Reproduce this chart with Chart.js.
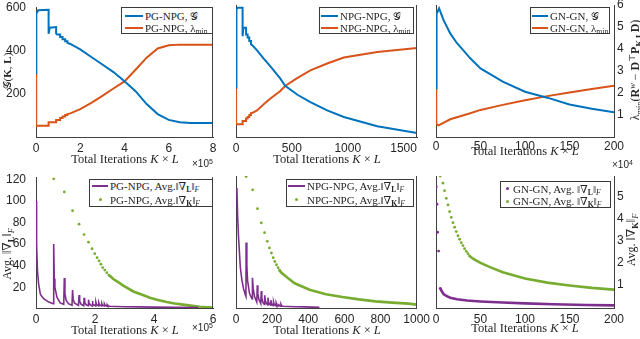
<!DOCTYPE html>
<html>
<head>
<meta charset="utf-8">
<title>PG / NPG / GN convergence</title>
<script src="https://cdn.jsdelivr.net/npm/chart.js@4.4.1/dist/chart.umd.min.js"></script>
<style>
  html, body { margin: 0; padding: 0; }
  body { width: 640px; height: 339px; position: relative; overflow: hidden; background: #fff;
         font-family: "Liberation Serif", "DejaVu Serif", serif; color: #262626; }
  canvas { position: absolute; }
  .lbl { position: absolute; white-space: nowrap; font-size: 12.5px; line-height: 1; transform: translate(-50%, -50%); }
  .lbl.rot { font-size: 12px; transform: translate(-50%, -50%) rotate(-90deg); }
  .exp { position: absolute; font-family: "Liberation Sans", sans-serif; font-size: 10px; line-height: 1; white-space: nowrap; }
  .lg { position: absolute; background: #fff; border: 1px solid #3a3a3a; box-sizing: border-box; font-size: 11px; }
  .lg .t { position: absolute; white-space: nowrap; line-height: 1; transform: translateY(-50%); }
  .lg .ln { position: absolute; height: 2px; margin-top: -1px; }
  .lg .dt { position: absolute; width: 3px; height: 3px; border-radius: 50%; margin: -1.5px 0 0 -1.5px; }
  sub, sup { font-size: 70%; line-height: 0; vertical-align: baseline; position: relative; }
  sub { top: 0.3em; }
  sup { top: -0.45em; }
</style>
</head>
<body>
<canvas id="c1"></canvas>
<canvas id="c2"></canvas>
<canvas id="c3"></canvas>
<canvas id="c4"></canvas>
<canvas id="c5"></canvas>
<canvas id="c6"></canvas>

<!-- axis titles -->
<div class="lbl" style="left:125px;top:159px">Total Iterations <i>K</i> × <i>L</i></div>
<div class="lbl" style="left:327px;top:159px">Total Iterations <i>K</i> × <i>L</i></div>
<div class="lbl" style="left:525px;top:151px">Total Iterations <i>K</i> × <i>L</i></div>
<div class="lbl" style="left:125px;top:330px">Total Iterations <i>K</i> × <i>L</i></div>
<div class="lbl" style="left:327px;top:330px">Total Iterations <i>K</i> × <i>L</i></div>
<div class="lbl" style="left:525px;top:328px">Total Iterations <i>K</i> × <i>L</i></div>

<div class="lbl rot" style="left:7px;top:71px;font-size:11px">𝒢(<b>K</b>, <b>L</b>)</div>
<div class="lbl rot" style="left:7px;top:254px">Avg. ‖∇<sub><b>L</b></sub>‖<sub><i>F</i></sub></div>
<div class="lbl rot" style="left:635px;top:70px">λ<sub>min</sub>(<b>R</b><sup><i>w</i></sup> − <b>D</b><sup>⊤</sup><b>P</b><sub><b>K</b>,<b>L</b></sub><b>D</b>)</div>
<div class="lbl rot" style="left:631px;top:240px">Avg. ‖∇<sub><b>K</b></sub>‖<sub><i>F</i></sub></div>

<div class="exp" style="left:192px;top:159px">×10<sup>5</sup></div>
<div class="exp" style="left:192px;top:323px">×10<sup>5</sup></div>
<div class="exp" style="left:612px;top:160px">×10<sup>4</sup></div>

<script>
// ---- data ----
// top row: cost G(K,L) and lambda_min, PG-NPG (x in 1e5 iterations)
const pgGx  = [0, 0, 0.03, 0.1, 0.57, 0.57, 0.62, 0.91, 0.91, 0.95, 1.09, 1.09, 1.2, 1.2, 1.32, 1.32, 1.42, 1.42, 1.55, 2.0, 2.5, 3.0, 3.5, 4.0, 4.5, 5.0, 5.5, 6.0, 6.5, 7.0, 8.0];
const pgG   = [295, 540, 570, 586, 588, 477, 505, 508, 478, 474, 474, 462, 462, 452, 452, 443, 443, 435, 430, 405, 370, 335, 300, 258, 212, 152, 106, 79, 68, 65, 65];
const pgLx  = [0, 0.01, 0.57, 0.57, 0.91, 0.91, 1.09, 1.09, 1.2, 1.2, 1.32, 1.32, 1.42, 1.42, 1.55, 2.0, 2.5, 3.0, 3.5, 4.0, 4.5, 5.0, 5.5, 6.0, 6.5, 8.0];
const pgLam = [295, 52, 52, 68, 68, 79, 79, 88, 88, 95, 95, 102, 102, 106, 109, 129, 158, 190, 224, 257, 311, 367, 409, 424, 427, 427];

// NPG-NPG
const npgGx  = [0, 0, 8, 14, 59, 59, 66, 90, 90, 104, 104, 119, 119, 134, 134, 149, 188, 248, 308, 397, 440, 550, 666, 816, 965, 1264, 1620];
const npgG   = [224, 560, 580, 588, 588, 458, 497, 497, 466, 466, 452, 452, 436, 436, 421, 416, 394, 356, 321, 265, 233, 192, 159, 121, 91, 49, 18];
const npgLx  = [0, 1, 59, 59, 90, 90, 104, 104, 119, 119, 134, 134, 149, 188, 248, 308, 397, 440, 540, 666, 816, 965, 1264, 1620];
const npgLam = [224, 58, 58, 73, 73, 84, 84, 91, 91, 100, 100, 109, 110, 121, 149, 175, 209, 232, 265, 303, 334, 361, 386, 404];

// GN-GN (read on the right axis)
const gnGx  = [0, 0.3, 1, 3.5, 8.5, 16, 23.6, 31, 38.5, 50, 75, 100, 125, 150, 175, 200];
const gnG   = [2.19, 5.2, 5.6, 5.85, 5.31, 4.7, 4.25, 3.91, 3.56, 3.1, 2.49, 2.03, 1.76, 1.45, 1.25, 1.09];
const gnLx  = [0, 0.3, 2.9, 16, 38.5, 50, 75, 100, 125, 150, 175, 200];
const gnLam = [2.19, 0.56, 0.49, 0.77, 1.05, 1.2, 1.43, 1.64, 1.83, 2.0, 2.16, 2.31];

// bottom row: average gradient norms
const pgDLx = [0, 0.02, 0.05, 0.09, 0.15, 0.26, 0.43, 0.58,
  0.6, 0.62, 0.64, 0.71, 0.82, 0.94,
  0.96, 0.98, 1.02, 1.1, 1.22,
  1.24, 1.26, 1.3, 1.44,
  1.46, 1.48, 1.53, 1.62,
  1.63, 1.65, 1.7, 1.77,
  1.78, 1.8, 1.85, 1.9,
  1.91, 1.93, 2.02,
  2.03, 2.05, 2.12,
  2.13, 2.15, 2.22,
  2.23, 2.25, 2.31,
  2.32, 2.34, 2.4,
  2.41, 2.43, 2.5, 2.7, 3.0, 3.5, 4.0, 4.7, 5.5];
const pgDL = [100, 60, 35, 23, 13.3, 9.4, 6.3, 4.8,
  60, 28, 20, 10.9, 5.5, 4.2,
  28.6, 14, 8, 4.8, 3.3,
  17.4, 9, 5.5, 3.2,
  12.8, 7, 4.2, 3,
  10.3, 6, 3.8, 2.9,
  8.5, 5.2, 3.5, 2.8,
  7.2, 4.6, 2.8,
  6.3, 4.2, 2.8,
  5.5, 3.8, 2.7,
  5, 3.6, 2.6,
  4.5, 3.3, 2.5,
  4, 3, 2.4, 2.2, 2.0, 1.8, 1.6, 1.4, 1.2];
const pgDKx = [0.6, 0.96, 1.24, 1.46, 1.63, 1.78, 1.9, 1.99, 2.07, 2.14, 2.2, 2.26, 2.33, 2.4, 2.47, 2.55, 2.62, 2.8, 2.96, 3.3, 3.6, 3.86, 4.1, 4.43, 4.7, 4.99, 5.3, 5.55, 5.8, 6.0];
const pgDK  = [120.5, 108.4, 91, 78.5, 68.8, 61.8, 55.7, 51.1, 47.4, 44.4, 41.4, 38.3, 35.9, 33.5, 31.3, 29.5, 27.7, 24.5, 21.6, 16.1, 13, 10.3, 8.5, 6.3, 5, 3.9, 2.8, 2.0, 1.5, 1.2];

const npgDLx = [5, 9, 14, 24, 33, 42, 51, 55,
  56, 60, 64, 75, 88, 90,
  91, 95, 103, 115,
  118, 121, 127, 137,
  140, 143, 149, 157,
  159, 162, 168, 175,
  177, 180, 186, 192,
  193, 196, 201, 207,
  208, 211, 221,
  222, 225, 234,
  235, 238, 248,
  249, 252, 260, 290, 330, 380, 420, 462];
const npgDL = [111, 85, 66, 38, 26, 18.5, 13.3, 11.5,
  61, 40, 26, 14, 9.4, 9,
  28.6, 19, 11, 6.3,
  21.6, 14, 8.5, 4.8,
  16.4, 10, 6, 4,
  12.4, 8, 5, 3.6,
  10.3, 6.5, 4.2, 3.3,
  7.9, 5.2, 3.6, 3,
  6.3, 4.3, 2.8,
  5.5, 3.8, 2.6,
  4.8, 3.4, 2.5,
  4.2, 3, 2.4, 2.2, 2.0, 1.8, 1.6, 1.4];
const npgDKx = [56, 92, 119, 140, 158, 173, 185, 196, 206, 215, 224, 233, 241, 250, 285, 325, 407, 498, 589, 680, 772, 864, 955, 1000];
const npgDK  = [121.5, 109.3, 92, 79, 70, 62, 56, 51.3, 47, 43.5, 40.5, 37.8, 35.5, 33.3, 28.5, 23.5, 17.5, 13.5, 10.9, 8.7, 6.9, 5.7, 4.8, 3.9];

// GN-GN, right axis in 1e4
const gnDLx = [0.3, 1.1, 1.8, 2.9, 4.8, 6.7, 8.5, 11.6, 16, 23.6, 34.8, 50, 75, 100, 132, 169, 200];
const gnDL  = [5.46, 4.66, 3.38, 2.52, 0.82, 0.67, 0.56, 0.47, 0.39, 0.32, 0.26, 0.22, 0.17, 0.13, 0.09, 0.06, 0.04];
const gnDKx = [4.8, 7.8, 9.6, 11.6, 13.5, 15.3, 17.2, 19.1, 20.9, 22.8, 24.7, 26.5, 28.4, 30.3, 32.1, 34, 35.9, 37.7, 42, 50, 60, 75, 100, 125, 150, 175, 200];
const gnDK  = [5.95, 5.62, 5.28, 4.93, 4.63, 4.32, 4.06, 3.82, 3.61, 3.41, 3.22, 3.06, 2.9, 2.77, 2.63, 2.51, 2.4, 2.3, 2.16, 1.98, 1.8, 1.55, 1.27, 1.08, 0.95, 0.84, 0.76];

// tick labels
const xtPG  = [0, 2, 4, 6, 8];
const xtNPG = [0, 500, 1000, 1500];
const xtGN  = [0, 50, 100, 150, 200];
const xtPG2 = [0, 2, 4, 6];
const xtNPG2 = [0, 200, 400, 600, 800, 1000];
const ytG   = [200, 400, 600];
const ytLam = [1, 2, 3, 4, 5, 6];
const ytDL  = [20, 40, 60, 80, 100, 120];
const ytDK  = [1, 2, 3, 4, 5];

// ---- drawing ----
const BLUE = '#0072BD', ORANGE = '#D95319', PURPLE = '#7E2F8E', GREEN = '#77AC30';
const axisCol = '#404040';
const tickCol = '#262626';
const tickFont = { family: 'Liberation Sans', size: 12 };

const pts = (xs, ys) => xs.map((x, i) => ({ x: x, y: ys[i] }));

function lineSet(xs, ys, color, width, axis) {
  return { data: pts(xs, ys), showLine: true, borderColor: color, borderWidth: width,
           pointRadius: 0, yAxisID: axis || 'y' };
}
// dots that merge into a thick band once the iterates get dense (x >= from)
function dotSet(xs, ys, color, from, axis) {
  return {
    data: pts(xs, ys), showLine: true, borderWidth: 2.6, borderColor: color,
    backgroundColor: color, pointBorderWidth: 0,
    pointRadius: ctx => (ctx.raw && ctx.raw.x <= from) ? 1.4 : 0,
    segment: { borderColor: ctx => ctx.p0.parsed.x >= from ? color : 'rgba(0,0,0,0)' },
    yAxisID: axis || 'y'
  };
}

const frameRight = {
  id: 'frameRight',
  afterDraw(chart) {
    const a = chart.chartArea, ctx = chart.ctx;
    ctx.save();
    ctx.strokeStyle = axisCol;
    ctx.lineWidth = 1;
    ctx.beginPath();
    ctx.moveTo(Math.round(a.right) - 0.5, a.top);
    ctx.lineTo(Math.round(a.right) - 0.5, a.bottom);
    ctx.stroke();
    ctx.restore();
  }
};

// cv = canvas [left, top, width, height], area = plot [left, top, right, bottom]
function buildPanel(id, cv, area, xr, yr, rightSide, datasets) {
  const canvas = document.getElementById(id);
  canvas.width = cv[2];
  canvas.height = cv[3];
  canvas.style.left = cv[0] + 'px';
  canvas.style.top = cv[1] + 'px';
  const leftW = area[0] - cv[0];
  const rightW = cv[0] + cv[2] - area[2];
  const bottomH = cv[1] + cv[3] - area[3];
  const topPad = area[1] - cv[1];

  const tickList = list => s => { s.ticks = list.map(v => ({ value: v })); };
  const plain = v => String(v);
  const border = { display: true, color: axisCol, width: 1 };
  const grid = { display: true, drawOnChartArea: false, drawTicks: false };

  const scales = {
    x: {
      type: 'linear', min: xr.min, max: xr.max, border: border, grid: grid,
      ticks: { font: tickFont, color: tickCol, padding: xr.pad, maxRotation: 0, autoSkip: false, callback: plain },
      afterBuildTicks: tickList(xr.ticks),
      afterFit: s => { s.height = bottomH; }
    },
    y: {
      type: 'linear', position: 'left', min: yr.min, max: yr.max, border: border, grid: grid,
      ticks: { display: yr.left, font: tickFont, color: tickCol, padding: 10, autoSkip: false, callback: plain },
      afterBuildTicks: tickList(yr.ticks),
      afterFit: s => { s.width = leftW; }
    }
  };
  if (rightSide) {
    scales.yr = {
      type: 'linear', position: 'right', min: yr.min, max: yr.max, border: border, grid: grid,
      ticks: { font: tickFont, color: tickCol, padding: 3, autoSkip: false, callback: plain },
      afterBuildTicks: tickList(yr.ticks),
      afterFit: s => { s.width = rightW; }
    };
  }

  return new Chart(canvas, {
    type: 'scatter',
    data: { datasets: datasets },
    options: {
      responsive: false, animation: false, events: [],
      layout: { padding: { top: topPad, right: rightSide ? 0 : rightW, left: 0, bottom: 0 } },
      scales: scales,
      plugins: { legend: { display: false }, tooltip: { enabled: false } }
    },
    plugins: rightSide ? [] : [frameRight]
  });
}

buildPanel('c1', [0, -10, 226, 180], [36, 5, 213, 137],
  { min: 0, max: 8, ticks: xtPG, pad: 4 }, { min: 0, max: 600, ticks: ytG, left: true }, false,
  [lineSet(pgGx, pgG, BLUE, 2), lineSet(pgLx, pgLam, ORANGE, 2)]);

buildPanel('c2', [218, -10, 216, 180], [236, 5, 417, 137],
  { min: 0, max: 1620, ticks: xtNPG, pad: 4 }, { min: 0, max: 600, ticks: ytG, left: false }, false,
  [lineSet(npgGx, npgG, BLUE, 2), lineSet(npgLx, npgLam, ORANGE, 2)]);

buildPanel('c3', [424, -10, 216, 180], [436, 5, 614, 137],
  { min: 0, max: 200, ticks: xtGN, pad: 2 }, { min: -0.04, max: 6, ticks: ytLam, left: false }, true,
  [lineSet(gnGx, gnG, BLUE, 2, 'yr'), lineSet(gnLx, gnLam, ORANGE, 2, 'yr')]);

buildPanel('c4', [0, 160, 226, 179], [36, 176, 213, 308],
  { min: 0, max: 6, ticks: xtPG2, pad: 4 }, { min: 0.8, max: 122, ticks: ytDL, left: true }, false,
  [lineSet(pgDLx, pgDL, PURPLE, 1.6), dotSet(pgDKx, pgDK, GREEN, 2.47)]);

buildPanel('c5', [218, 160, 216, 179], [236, 176, 418, 308],
  { min: 0, max: 1000, ticks: xtNPG2, pad: 4 }, { min: 0.8, max: 122, ticks: ytDL, left: false }, false,
  [lineSet(npgDLx, npgDL, PURPLE, 1.6), dotSet(npgDKx, npgDK, GREEN, 241)]);

buildPanel('c6', [424, 160, 216, 179], [436, 176, 614, 308],
  { min: 0, max: 200, ticks: xtGN, pad: 4 }, { min: -0.08, max: 5.95, ticks: ytDK, left: false }, true,
  [dotSet(gnDLx, gnDL, PURPLE, 4.8, 'yr'), dotSet(gnDKx, gnDK, GREEN, 37.7, 'yr')]);

// ---- legends (html so the math can be set properly) ----
function legend(box, rowY, rows) {
  const d = document.createElement('div');
  d.className = 'lg';
  d.style.left = box[0] + 'px';
  d.style.top = box[1] + 'px';
  d.style.width = box[2] + 'px';
  d.style.height = box[3] + 'px';
  rows.forEach((r, i) => {
    const y = rowY[i] - box[1] - 1;
    const m = document.createElement('div');
    if (r.dot !== undefined) {
      m.className = 'dt';
      m.style.left = (r.dot - box[0] - 1) + 'px';
    } else {
      m.className = 'ln';
      m.style.left = (r.x1 - box[0] - 1) + 'px';
      m.style.width = (r.x2 - r.x1) + 'px';
    }
    m.style.top = y + 'px';
    m.style.background = r.color;
    d.appendChild(m);
    const t = document.createElement('div');
    t.className = 't';
    t.style.left = (r.tx - box[0] - 1) + 'px';
    t.style.top = y + 'px';
    t.innerHTML = r.html;
    d.appendChild(t);
  });
  document.body.appendChild(d);
}

const gradL = 'Avg.‖∇<sub><b>L</b></sub>‖<sub><i>F</i></sub>';
const gradK = 'Avg.‖∇<sub><b>K</b></sub>‖<sub><i>F</i></sub>';

legend([121, 7, 92, 27], [15.5, 28], [
  { x1: 125, x2: 143, tx: 145, color: BLUE, html: 'PG-NPG, 𝒢' },
  { x1: 125, x2: 143, tx: 145, color: ORANGE, html: 'PG-NPG, λ<sub>min</sub>' }]);
legend([319, 7, 95, 27], [15.5, 28], [
  { x1: 321, x2: 338, tx: 340, color: BLUE, html: 'NPG-NPG, 𝒢' },
  { x1: 321, x2: 338, tx: 340, color: ORANGE, html: 'NPG-NPG, λ<sub>min</sub>' }]);
legend([530, 7, 80, 27], [15.5, 28], [
  { x1: 532, x2: 548, tx: 550, color: BLUE, html: 'GN-GN, 𝒢' },
  { x1: 532, x2: 548, tx: 550, color: ORANGE, html: 'GN-GN, λ<sub>min</sub>' }]);
legend([89, 179, 124, 28], [186, 199.5], [
  { x1: 92, x2: 108, tx: 110, color: PURPLE, html: 'PG-NPG, ' + gradL },
  { dot: 100, tx: 110, color: GREEN, html: 'PG-NPG, ' + gradK }]);
legend([286, 179, 128, 28], [186, 199.5], [
  { x1: 288, x2: 305, tx: 307, color: PURPLE, html: 'NPG-NPG, ' + gradL },
  { dot: 296, tx: 307, color: GREEN, html: 'NPG-NPG, ' + gradK }]);
legend([500, 181, 111, 27], [188.5, 201], [
  { dot: 507, tx: 513, color: PURPLE, html: 'GN-GN, Avg. ‖∇<sub><b>L</b></sub>‖<sub><i>F</i></sub>' },
  { dot: 507, tx: 513, color: GREEN, html: 'GN-GN, Avg. ‖∇<sub><b>K</b></sub>‖<sub><i>F</i></sub>' }]);
</script>
</body>
</html>
